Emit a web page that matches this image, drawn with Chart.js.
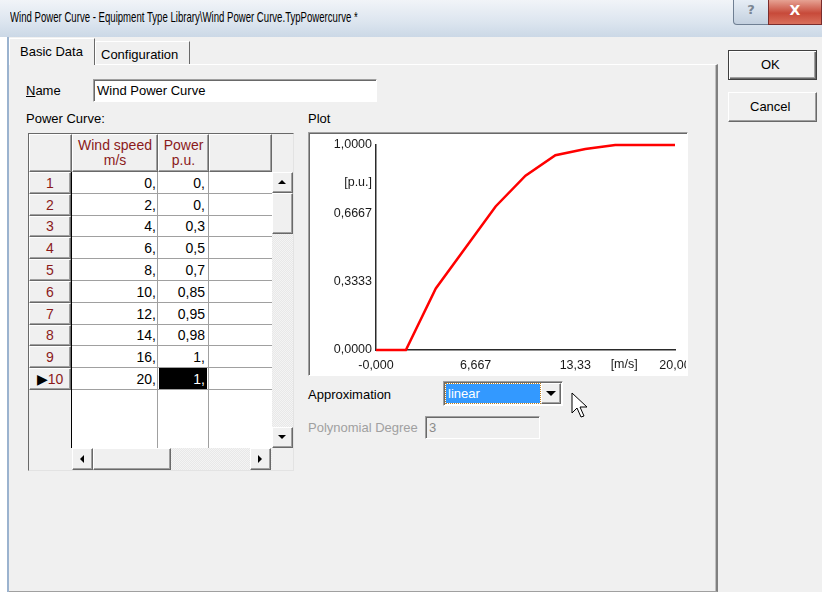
<!DOCTYPE html>
<html>
<head>
<meta charset="utf-8">
<script src="https://cdn.jsdelivr.net/npm/chart.js@4.4.0/dist/chart.umd.min.js"></script>
<style>
  body { margin: 0; width: 822px; height: 592px; background: #fff; font-family: "Liberation Sans", Arial, sans-serif; font-size: 12px; color: #000; position: relative; overflow: hidden; }
  .abs { position: absolute; box-sizing: border-box; }
  #titlebar { left: 0; top: 0; width: 822px; height: 37px; background: linear-gradient(#f1f4f8, #dce5ef 60%, #cbd8e6); }
  #title { left: 10px; top: 8px; font-size: 15px; white-space: nowrap; transform: scaleX(0.64); transform-origin: left; }
  #body { left: 7px; top: 37px; width: 815px; height: 555px; background: #f0f0f0; border-left: 2px solid #9bb3cf; }
  .raised { background: #f0f0f0; border: 1px solid; border-color: #fff #696969 #696969 #fff; box-shadow: inset -1px -1px 0 #a0a0a0; }
  .sunken { border: 1px solid; border-color: #a0a0a0 #fff #fff #a0a0a0; box-shadow: inset 1px 1px 0 #696969; }
  .lbl { white-space: nowrap; font-size: 13px; }
  .cell { white-space: nowrap; overflow: hidden; font-size: 13px; }
  .red { color: #8b1a1a; }
</style>
</head>
<body>
<div class="abs" id="titlebar"></div>
<div class="abs" id="title">Wind Power Curve - Equipment Type Library\Wind Power Curve.TypPowercurve *</div>
<div class="abs" style="left:733px;top:0;width:36px;height:25px;border:1px solid #6f7f93;border-top:none;border-radius:0 0 0 4px;background:linear-gradient(#e6edf5,#c3d0df);text-align:center;font:bold 13px 'DejaVu Sans';color:#7a8593;line-height:20px;">?</div>
<div class="abs" style="left:768px;top:0;width:54px;height:25px;border:1px solid #7a2c2c;border-top:none;background:linear-gradient(#e6a293,#c74a3a 55%,#d9705c);text-align:center;font:bold 14px 'DejaVu Sans';color:#fff;line-height:21px;">X</div>
<div class="abs" id="body"></div>

<!-- tab panel -->
<div class="abs" style="left:9px;top:64px;width:709px;height:528px;border-top:1px solid #fff;border-right:2px solid #808080;border-bottom:1px solid #a0a0a0;box-shadow:inset -1px 0 0 #c0c0c0;"></div>
<div class="abs" style="left:9px;top:38px;width:86px;height:27px;background:#f0f0f0;border:1px solid;border-color:#fff #696969 transparent #fff;border-bottom:none;"></div>
<div class="abs lbl" style="left:20px;top:44px;">Basic Data</div>
<div class="abs" style="left:95px;top:41px;width:95px;height:23px;background:#f0f0f0;border:1px solid;border-color:#fff #696969 transparent #fff;border-bottom:none;"></div>
<div class="abs lbl" style="left:101px;top:47px;">Configuration</div>

<!-- buttons -->
<div class="abs raised" style="left:728px;top:50px;width:89px;height:30px;border:1px solid #404040;box-shadow:inset 1px 1px 0 #fff, inset -1px -1px 0 #696969, inset -2px -2px 0 #a0a0a0;"></div>
<div class="abs lbl" style="left:761px;top:57px;">OK</div>
<div class="abs raised" style="left:728px;top:92px;width:89px;height:30px;"></div>
<div class="abs lbl" style="left:750px;top:99px;">Cancel</div>

<!-- name -->
<div class="abs lbl" style="left:26px;top:83px;"><u>N</u>ame</div>
<div class="abs sunken" style="left:93px;top:79px;width:284px;height:23px;background:#fff;"></div>
<div class="abs lbl" style="left:97px;top:83px;">Wind Power Curve</div>

<div class="abs lbl" style="left:26px;top:111px;">Power Curve:</div>
<div class="abs lbl" style="left:308px;top:111px;">Plot</div>

<!-- grid -->
<div class="abs" id="grid" style="left:28px;top:133px;width:266px;height:338px;background:#f0f0f0;border:1px solid;border-color:#696969 #e3e3e3 #e3e3e3 #696969;"></div>

<!-- plot -->
<div class="abs sunken" style="left:308px;top:132px;width:380px;height:244px;background:#fff;"></div>
<div class="abs" style="left:310px;top:134px;width:376px;height:240px;overflow:hidden;">
  <canvas id="plot" style="position:absolute;left:-1px;top:-1px;"></canvas>
</div>

<!-- approximation -->
<div class="abs lbl" style="left:308px;top:387px;">Approximation</div>
<div class="abs sunken" style="left:443px;top:381px;width:120px;height:25px;background:#fff;"></div>
<div class="abs" style="left:446px;top:384px;width:94px;height:19px;background:#3399ff;outline:1px dotted #c08020;"></div>
<div class="abs lbl" style="left:448px;top:386px;color:#fff;">linear</div>
<div class="abs raised" style="left:541px;top:383px;width:20px;height:21px;"></div>
<div class="abs" style="left:546px;top:391px;width:0;height:0;border-left:5px solid transparent;border-right:5px solid transparent;border-top:5px solid #000;"></div>
<svg class="abs" style="left:571px;top:392px;" width="20" height="28"><polygon points="1,1 1,21 6,16 10,25 13,24 9,15 16,15" fill="#fff" stroke="#000" stroke-width="1"/></svg>

<div class="abs lbl" style="left:308px;top:420px;color:#a0a0a0;">Polynomial Degree</div>
<div class="abs sunken" style="left:425px;top:416px;width:115px;height:23px;background:#f0f0f0;"></div>
<div class="abs lbl" style="left:429px;top:420px;color:#8a8a8a;">3</div>

<script>
// Kennlinie (aus der Tabelle)
const windSpeed = [0, 2, 4, 6, 8, 10, 12, 14, 16, 20];
const power = [0, 0, 0.3, 0.5, 0.7, 0.85, 0.95, 0.98, 1, 1];
const rowLabels = ['1', '2', '3', '4', '5', '6', '7', '8', '9', '10'];

const xTicks = [0, 6.667, 13.33, 20];
const xTickLabels = ['-0,000', '6,667', '13,33', '20,00'];
const yTicks = [0, 0.3333, 0.6667, 1];
const yTickLabels = ['0,0000', '0,3333', '0,6667', '1,0000'];
const xUnit = '[m/s]';
const yUnit = '[p.u.]';

function fmt(v) {
  return Number.isInteger(v) ? v + ',' : String(v).replace('.', ',');
}

// grid / table
const grid = document.getElementById('grid');
function add(parent, css, html, cls) {
  const d = document.createElement('div');
  d.className = 'abs ' + (cls || '');
  d.style.cssText = css;
  if (html) d.innerHTML = html;
  parent.appendChild(d);
  return d;
}
// header
add(grid, 'left:0;top:0;width:43px;height:38px;', '', 'raised');
add(grid, 'left:43px;top:0;width:86px;height:38px;text-align:center;line-height:15px;padding-top:3px;font-size:14px;', 'Wind speed<br>m/s', 'raised cell red');
add(grid, 'left:129px;top:0;width:51px;height:38px;text-align:center;line-height:15px;padding-top:3px;font-size:14px;', 'Power<br>p.u.', 'raised cell red');
add(grid, 'left:180px;top:0;width:63px;height:38px;', '', 'raised');
// white area
add(grid, 'left:43px;top:38px;width:200px;height:276px;background:#fff;');
add(grid, 'left:128px;top:38px;width:1px;height:276px;background:#a0a0a0;');
add(grid, 'left:179px;top:38px;width:1px;height:276px;background:#a0a0a0;');
add(grid, 'left:0;top:38px;width:43px;height:276px;border-right:1px solid #000;');
const rowH = 21.8;
windSpeed.forEach((w, i) => {
  const t = Math.round(38 + i * rowH);
  const h = Math.round(38 + (i + 1) * rowH) - t;
  const sel = i === windSpeed.length - 1;
  const head = sel ? '<span style="color:#000">\u25B6</span>' + rowLabels[i] : rowLabels[i];
  add(grid, `left:0;top:${t}px;width:42px;height:${h}px;text-align:center;line-height:${h - 2}px;font-size:14px;`, head, 'raised cell red');
  add(grid, `left:43px;top:${t + h - 1}px;width:200px;height:1px;background:#a0a0a0;`);
  add(grid, `left:43px;top:${t}px;width:84px;height:${h}px;text-align:right;line-height:${h}px;font-size:14px;`, fmt(w), 'cell');
  add(grid, `left:130px;top:${t}px;width:48px;height:${h - 1}px;text-align:right;padding-right:2px;line-height:${h}px;font-size:14px;` +
    (sel ? 'background:#000;color:#fff;' : ''), fmt(power[i]), 'cell');
});
// vertical scrollbar
add(grid, 'left:243px;top:38px;width:21px;height:276px;background:repeating-conic-gradient(#e8e8e8 0 25%, #f4f4f4 0 50%) 0 0/2px 2px;');
add(grid, 'left:243px;top:38px;width:21px;height:21px;', '', 'raised');
add(grid, 'left:249px;top:46px;width:0;height:0;border-left:4px solid transparent;border-right:4px solid transparent;border-bottom:4px solid #000;');
add(grid, 'left:243px;top:59px;width:21px;height:41px;', '', 'raised');
add(grid, 'left:243px;top:293px;width:21px;height:21px;', '', 'raised');
add(grid, 'left:249px;top:301px;width:0;height:0;border-left:4px solid transparent;border-right:4px solid transparent;border-top:4px solid #000;');
// horizontal scrollbar
add(grid, 'left:43px;top:314px;width:200px;height:22px;background:repeating-conic-gradient(#e8e8e8 0 25%, #f4f4f4 0 50%) 0 0/2px 2px;');
add(grid, 'left:43px;top:314px;width:21px;height:22px;', '', 'raised');
add(grid, 'left:51px;top:321px;width:0;height:0;border-top:4px solid transparent;border-bottom:4px solid transparent;border-right:4px solid #000;');
add(grid, 'left:64px;top:314px;width:78px;height:22px;', '', 'raised');
add(grid, 'left:221px;top:314px;width:21px;height:22px;', '', 'raised');
add(grid, 'left:229px;top:321px;width:0;height:0;border-top:4px solid transparent;border-bottom:4px solid transparent;border-left:4px solid #000;');

// plot
const canvas = document.getElementById('plot');
canvas.width = 400;
canvas.height = 241;

const unitLabels = {
  id: 'unitLabels',
  afterDraw(chart) {
    const { ctx, scales } = chart;
    ctx.save();
    ctx.font = '12.5px "Liberation Sans", Arial';
    ctx.fillStyle = '#1a1a1a';
    ctx.textAlign = 'right';
    ctx.textBaseline = 'middle';
    ctx.fillText(yUnit, scales.y.right - 4, scales.y.getPixelForValue(0.815));
    ctx.textAlign = 'center';
    ctx.textBaseline = 'top';
    ctx.fillText(xUnit, scales.x.getPixelForValue(16.6), scales.x.top + 8);
    ctx.restore();
  }
};

new Chart(canvas.getContext('2d'), {
  type: 'line',
  data: {
    datasets: [{
      data: windSpeed.map((w, i) => ({ x: w, y: power[i] })),
      borderColor: '#ff0000',
      borderWidth: 2.5,
      pointRadius: 0,
      tension: 0,
      clip: false
    }]
  },
  options: {
    responsive: false,
    animation: false,
    events: [],
    layout: { padding: { left: 0, top: 12, right: 34, bottom: 0 } },
    plugins: { legend: { display: false }, tooltip: { enabled: false } },
    scales: {
      x: {
        type: 'linear', min: 0, max: 20,
        afterBuildTicks: (s) => { s.ticks = xTicks.map(v => ({ value: v })); },
        afterFit: (s) => { s.height = 24; },
        grid: { display: false, drawTicks: false },
        border: { display: true, color: '#2a2a2a', width: 1.5 },
        ticks: {
          padding: 8, color: '#1a1a1a', maxRotation: 0, autoSkip: false,
          font: { family: '"Liberation Sans", Arial', size: 12.5 },
          callback: (v, i) => xTickLabels[i]
        }
      },
      y: {
        type: 'linear', min: 0, max: 1,
        afterBuildTicks: (s) => { s.ticks = yTicks.map(v => ({ value: v })); },
        afterFit: (s) => { s.width = 67; },
        grid: { display: false, drawTicks: false },
        border: { display: true, color: '#2a2a2a', width: 1.5 },
        ticks: {
          padding: 4, color: '#1a1a1a', autoSkip: false,
          font: { family: '"Liberation Sans", Arial', size: 12.5 },
          callback: (v, i) => yTickLabels[i]
        }
      }
    }
  },
  plugins: [unitLabels]
});
</script>
</body>
</html>
